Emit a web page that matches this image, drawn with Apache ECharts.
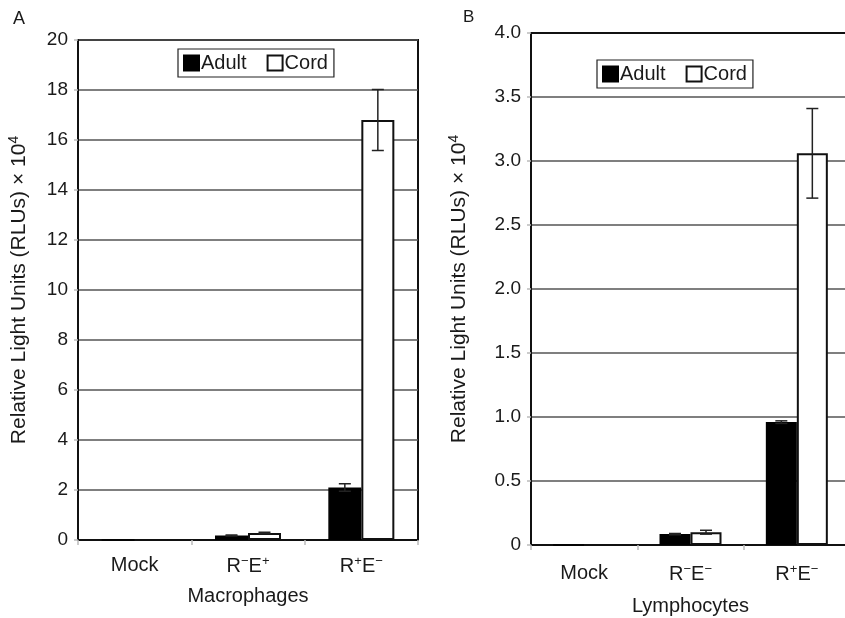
<!DOCTYPE html>
<html>
<head>
<meta charset="utf-8">
<script src="https://cdn.jsdelivr.net/npm/echarts@6/dist/echarts.min.js"></script>
<style>
  html, body { margin: 0; padding: 0; background: #fff; overflow: hidden; }
  #chart { width: 845px; height: 618px; }
</style>
</head>
<body>
<div id="chart"></div>
<script>
// Categories (rich-text labels with superscripts)
const catsA = ['Mock', 'R{sup|\u2212}E{sup|+}', 'R{sup|+}E{sup|\u2212}'];
const catsB = ['Mock', 'R{sup|\u2212}E{sup|\u2212}', 'R{sup|+}E{sup|\u2212}'];

// Panel A: macrophages (RLU x 10^4)
const adultA = [0, 0.18, 2.1];
const adultAErr = [0, 0.02, 0.15];
const cordA = [0, 0.28, 16.8];
const cordAErr = [0, 0.03, 1.22];

// Panel B: lymphocytes (RLU x 10^4)
const adultB = [0, 0.085, 0.96];
const adultBErr = [0, 0.005, 0.01];
const cordB = [0, 0.1, 3.06];
const cordBErr = [0, 0.015, 0.35];

const yTicksA = { min: 0, max: 20, interval: 2 };
const yTicksB = { min: 0, max: 4, interval: 0.5 };

const FONT = '"Liberation Sans", Arial, sans-serif';
const TXT = '#1a1a1a';
const BAR_W_A = 33;
const BAR_W_B = 31;

const supRich = {
  sup: { fontSize: 14, fontFamily: FONT, color: TXT, verticalAlign: 'top', lineHeight: 25 }
};

function errRenderer(barW, side) {
  return function (params, api) {
    const cat = api.value(0);
    const v = api.value(1);
    const e = api.value(2);
    if (!e) return null;
    const cx = api.coord([cat, 0])[0] + side * barW / 2;
    const yTop = api.coord([cat, v + e])[1];
    const yBot = api.coord([cat, v - e])[1];
    const cap = 6;
    const style = { stroke: '#222', lineWidth: 1.5 };
    return {
      type: 'group',
      children: [
        { type: 'line', shape: { x1: cx, y1: yTop, x2: cx, y2: yBot }, style },
        { type: 'line', shape: { x1: cx - cap, y1: yTop, x2: cx + cap, y2: yTop }, style },
        { type: 'line', shape: { x1: cx - cap, y1: yBot, x2: cx + cap, y2: yBot }, style }
      ]
    };
  };
}

function errData(vals, errs) {
  return vals.map((v, i) => [i, v, errs[i]]);
}

function xAxisCfg(gridIndex, cats, name, nameGap, margin) {
  return {
    type: 'category', gridIndex, data: cats,
    name, nameLocation: 'middle', nameGap,
    nameTextStyle: { fontFamily: FONT, fontSize: 20, color: TXT },
    axisLine: { lineStyle: { color: '#111', width: 2 } },
    axisTick: { show: true, length: 5, lineStyle: { color: '#bbb', width: 1.5 } },
    axisLabel: {
      interval: 0,
      fontFamily: FONT, fontSize: 20, color: TXT, margin,
      rich: { sup: { fontSize: 13, fontFamily: FONT, color: TXT, verticalAlign: 'top', lineHeight: 22 } }
    },
    splitLine: { show: false }
  };
}

// Plain frame line along the top of a plot
function topFrameAxis(gridIndex, cats) {
  return {
    type: 'category', gridIndex, data: cats, position: 'top',
    axisLine: { show: true, lineStyle: { color: '#111', width: 2 } },
    axisTick: { show: false }, axisLabel: { show: false }, splitLine: { show: false }
  };
}

function yAxisCfg(gridIndex, t, nameGap, fmt) {
  return {
    type: 'value', gridIndex, min: t.min, max: t.max, interval: t.interval,
    name: 'Relative Light Units (RLUs) \u00d7 10{sup|4}',
    nameLocation: 'middle', nameGap, nameRotate: 90,
    nameTextStyle: { fontFamily: FONT, fontSize: 21, color: TXT, rich: supRich },
    axisLine: { show: true, lineStyle: { color: '#111', width: 2 } },
    axisTick: { show: true, length: 4, lineStyle: { color: '#bbb', width: 1.5 } },
    axisLabel: { fontFamily: FONT, fontSize: 19, color: TXT, margin: 10, formatter: fmt },
    splitLine: { show: true, lineStyle: { color: '#555', width: 1.5 } }
  };
}

function legendCfg(left, top) {
  return {
    left, top, orient: 'horizontal',
    data: [
      { name: 'Adult', icon: 'rect' },
      { name: 'Cord', icon: 'rect' }
    ],
    itemWidth: 15, itemHeight: 15, itemGap: 20,
    padding: [4, 6, 4, 5],
    borderColor: '#222', borderWidth: 1.2,
    selectedMode: false,
    textStyle: { fontFamily: FONT, fontSize: 20, color: TXT, padding: [0, 0, 0, -3] }
  };
}

const adultStyle = { color: '#000', borderColor: '#000', borderWidth: 1.5 };
const cordStyle = { color: '#fff', borderColor: '#111', borderWidth: 2 };

const chart = echarts.init(document.getElementById('chart'), null, { renderer: 'canvas' });

chart.setOption({
  backgroundColor: '#fff',
  animation: false,
  title: [
    { text: 'A', left: 8, top: 5, textStyle: { fontFamily: FONT, fontSize: 18, fontWeight: 'normal', color: TXT } },
    { text: 'B', left: 458, top: 4, textStyle: { fontFamily: FONT, fontSize: 17, fontWeight: 'normal', color: TXT } }
  ],
  legend: [legendCfg(178, 49), legendCfg(597, 60)],
  grid: [
    { left: 78, top: 40, width: 340, height: 500, show: true, borderColor: '#111', borderWidth: 2, backgroundColor: 'transparent', outerBoundsMode: 'none' },
    { left: 531, top: 33, width: 319, height: 512, show: false, outerBoundsMode: 'none' }
  ],
  xAxis: [
    xAxisCfg(0, catsA, 'Macrophages', 46, 15),
    xAxisCfg(1, catsB, 'Lymphocytes', 51, 18),
    topFrameAxis(1, catsB)
  ],
  yAxis: [
    yAxisCfg(0, yTicksA, 46, v => String(v)),
    yAxisCfg(1, yTicksB, 59, v => (v === 0 ? '0' : v.toFixed(1)))
  ],
  series: [
    { name: 'Adult', type: 'bar', xAxisIndex: 0, yAxisIndex: 0, data: adultA, barWidth: BAR_W_A, barGap: '0%', itemStyle: adultStyle },
    { name: 'Cord', type: 'bar', xAxisIndex: 0, yAxisIndex: 0, data: cordA, barWidth: BAR_W_A, barGap: '0%', itemStyle: cordStyle },
    { name: 'Adult', type: 'bar', xAxisIndex: 1, yAxisIndex: 1, data: adultB, barWidth: BAR_W_B, barGap: '0%', itemStyle: adultStyle },
    { name: 'Cord', type: 'bar', xAxisIndex: 1, yAxisIndex: 1, data: cordB, barWidth: BAR_W_B, barGap: '0%', itemStyle: cordStyle },
    { type: 'custom', xAxisIndex: 0, yAxisIndex: 0, z: 5, renderItem: errRenderer(BAR_W_A, -1), data: errData(adultA, adultAErr) },
    { type: 'custom', xAxisIndex: 0, yAxisIndex: 0, z: 5, renderItem: errRenderer(BAR_W_A, 1), data: errData(cordA, cordAErr) },
    { type: 'custom', xAxisIndex: 1, yAxisIndex: 1, z: 5, renderItem: errRenderer(BAR_W_B, -1), data: errData(adultB, adultBErr) },
    { type: 'custom', xAxisIndex: 1, yAxisIndex: 1, z: 5, renderItem: errRenderer(BAR_W_B, 1), data: errData(cordB, cordBErr) }
  ]
});
</script>
</body>
</html>
